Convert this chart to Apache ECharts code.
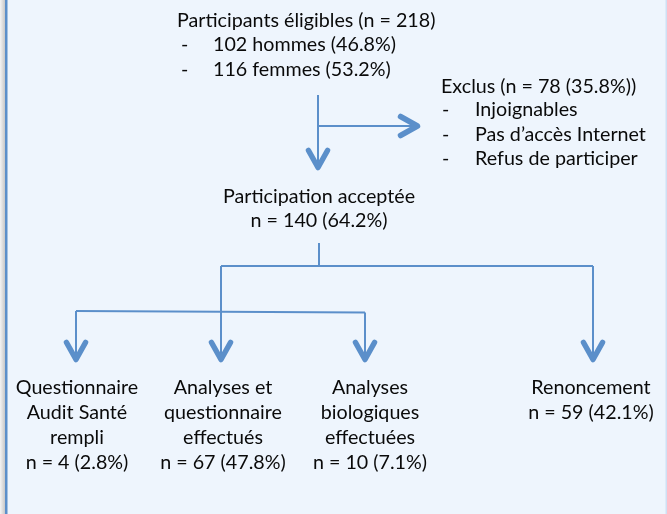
<!DOCTYPE html>
<html>
<head>
<meta charset="utf-8">
<script src="https://cdn.jsdelivr.net/npm/echarts@6/dist/echarts.min.js"></script>
<style>
  html, body { margin: 0; padding: 0; background: #eef5fd; }
  #main { width: 667px; height: 514px; }
</style>
</head>
<body>
<div id="main"></div>
<script>
// ---- data ----
const totalEligible = 218;
const sexLabels = ['hommes', 'femmes'];
const sexCounts = [102, 116];
const sexPct = [46.8, 53.2];
const excludedCount = 78;
const excludedPct = 35.8;
const excludedReasons = ['Injoignables', 'Pas d\u2019accès Internet', 'Refus de participer'];
const acceptedCount = 140;
const acceptedPct = 64.2;
const outcomeLabels = [
    ['Questionnaire', 'Audit Santé', 'rempli'],
    ['Analyses et', 'questionnaire', 'effectués'],
    ['Analyses', 'biologiques', 'effectuées'],
    ['Renoncement'],
];
const outcomeCounts = [4, 67, 10, 59];
const outcomePct = [2.8, 47.8, 7.1, 42.1];

// ---- layout (page pixels, used as axis units) ----
const W = 667, H = 514;
const LINE = '#5b8fca';
const TEXT = '#0a0a0a';
const FONT_SIZE = 19.7;
const FONT_FAMILY = 'Lato, "Open Sans", sans-serif';
const outcomeX = [77, 223, 370, 591];

const texts = []; // [x, y, text, align]
texts.push([177, 21, `Participants éligibles (n = ${totalEligible})`, 'left']);
sexLabels.forEach((s, i) => {
    texts.push([181, 45 + i * 25, '-', 'left']);
    texts.push([213, 45 + i * 25, `${sexCounts[i]} ${s} (${sexPct[i]}%)`, 'left']);
});
texts.push([441, 87, `Exclus (n = ${excludedCount} (${excludedPct}%))`, 'left']);
excludedReasons.forEach((r, i) => {
    texts.push([442, 110 + i * 24.5, '-', 'left']);
    texts.push([475, 110 + i * 24.5, r, 'left']);
});
texts.push([319, 197, 'Participation acceptée', 'center']);
texts.push([319, 221, `n = ${acceptedCount} (${acceptedPct}%)`, 'center']);
outcomeLabels.forEach((lines, k) => {
    const all = lines.concat([`n = ${outcomeCounts[k]} (${outcomePct[k]}%)`]);
    all.forEach((t, j) => texts.push([outcomeX[k], 388 + j * 25, t, 'center']));
});

// connectors: points + whether it ends with an arrowhead
const paths = [
    { pts: [[318, 95], [318, 170]], arrow: true },
    { pts: [[318, 126], [420, 126]], arrow: true },
    { pts: [[319, 243], [319, 266]], arrow: false },
    { pts: [[221, 266], [593, 266]], arrow: false },
    { pts: [[221, 266], [221, 362]], arrow: true },
    { pts: [[593, 266], [593, 362]], arrow: true },
    { pts: [[76, 311], [365, 312.5]], arrow: false },
    { pts: [[76, 311], [76, 362]], arrow: true },
    { pts: [[365, 312.5], [365, 362]], arrow: true },
];

const chart = echarts.init(document.getElementById('main'), null, { renderer: 'canvas' });

const option = {
    backgroundColor: '#eef5fd',
    animation: false,
    grid: { left: 0, right: 0, top: 0, bottom: 0 },
    xAxis: { type: 'value', min: 0, max: W, show: false },
    yAxis: { type: 'value', min: 0, max: H, inverse: true, show: false },
    graphic: [
        {
            type: 'rect', shape: { x: 0, y: 0, width: 5, height: H }, silent: true,
            style: {
                fill: new echarts.graphic.LinearGradient(0, 0, 1, 0, [
                    { offset: 0, color: '#f4f4f4' },
                    { offset: 1, color: '#c8c8c8' },
                ]),
            },
        },
        { type: 'rect', shape: { x: 5, y: 0, width: 2.5, height: H }, style: { fill: LINE }, silent: true },
        { type: 'rect', shape: { x: 665.5, y: 0, width: 1.5, height: H }, style: { fill: '#cfe0f4' }, silent: true },
    ],
    series: [
        {
            type: 'custom',
            clip: false,
            silent: true,
            data: paths.map((p, i) => [i]),
            renderItem: function (params, api) {
                const p = paths[params.dataIndex];
                const pts = p.pts.map(q => api.coord(q));
                const children = [{
                    type: 'polyline',
                    shape: { points: pts },
                    style: { stroke: LINE, lineWidth: 2, fill: null },
                }];
                if (p.arrow) {
                    const tip = pts[pts.length - 1];
                    const prev = pts[pts.length - 2];
                    const dx = tip[0] - prev[0], dy = tip[1] - prev[1];
                    const len = Math.sqrt(dx * dx + dy * dy);
                    const ux = dx / len, uy = dy / len;
                    const t = [tip[0] - ux * 2.5, tip[1] - uy * 2.5];
                    const depth = 17, half = 9.5;
                    const bx = t[0] - ux * depth, by = t[1] - uy * depth;
                    children.push({
                        type: 'polyline',
                        shape: { points: [[bx - uy * half, by + ux * half], t, [bx + uy * half, by - ux * half]] },
                        style: { stroke: LINE, lineWidth: 5.5, lineCap: 'round', lineJoin: 'round', fill: null },
                    });
                }
                return { type: 'group', children: children };
            },
        },
        {
            type: 'custom',
            clip: false,
            silent: true,
            data: texts.map(t => [t[0], t[1]]),
            renderItem: function (params, api) {
                const t = texts[params.dataIndex];
                const c = api.coord([api.value(0), api.value(1)]);
                return {
                    type: 'text',
                    x: c[0],
                    y: c[1],
                    style: {
                        text: t[2],
                        fill: TEXT,
                        font: `${FONT_SIZE}px ${FONT_FAMILY}`,
                        align: t[3],
                        verticalAlign: 'middle',
                    },
                };
            },
        },
    ],
};

chart.setOption(option);
</script>
</body>
</html>
